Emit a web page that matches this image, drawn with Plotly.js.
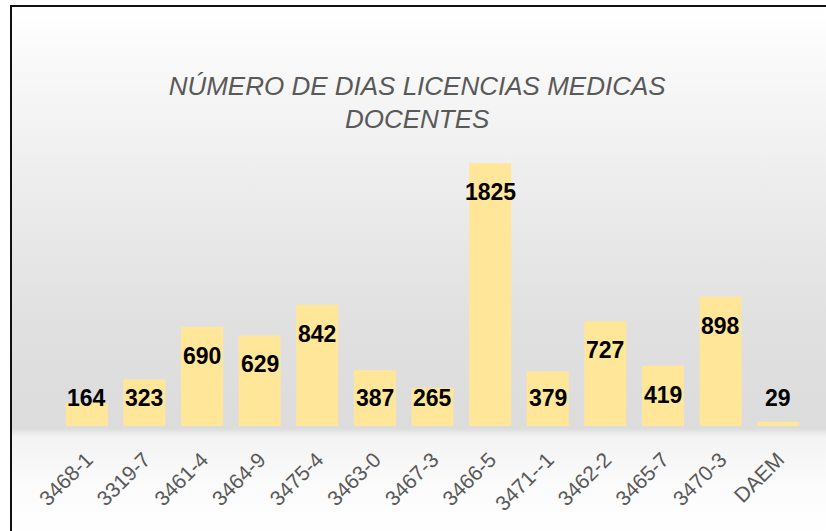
<!DOCTYPE html>
<html>
<head>
<meta charset="utf-8">
<script src="https://cdn.plot.ly/plotly-3.0.1.min.js"></script>
<style>
  html, body { margin: 0; padding: 0; width: 826px; height: 531px; overflow: hidden; background: #ffffff; }
  #bg {
    position: absolute; left: 10px; top: 5px; width: 820px; height: 530px;
    border-left: 2.5px solid #111; border-top: 2.5px solid #111;
    background: linear-gradient(to bottom, #ffffff 0%, #f7f7f7 14%, #ececec 35%, #e0e0e0 60%, #dcdcdc 79.5%, #f3f3f3 81%, #fbfbfb 90%, #ffffff 100%);
  }
  #chart { position: absolute; left: 0; top: 0; width: 826px; height: 531px; }
</style>
</head>
<body>
<div id="bg"></div>
<div id="chart"></div>
<script>
const categories = ["3468-1", "3319-7", "3461-4", "3464-9", "3475-4", "3463-0", "3467-3", "3466-5", "3471--1", "3462-2", "3465-7", "3470-3", "DAEM"];
const values = [164, 323, 690, 629, 842, 387, 265, 1825, 379, 727, 419, 898, 29];
const chartTitle = "NÚMERO DE DIAS LICENCIAS MEDICAS<br>DOCENTES";

const labelFloor = 396; // labels of short bars stay at a minimum height (like Excel)

const trace = {
  type: "bar",
  x: categories,
  y: values,
  marker: { color: "#FFE699", line: { width: 0 } },
  hoverinfo: "x+y"
};

const annotations = categories.map((c, i) => ({
  x: c,
  y: Math.max(values[i], labelFloor),
  xref: "x", yref: "y",
  text: String(values[i]),
  showarrow: false,
  yanchor: "middle",
  yshift: -29,
  font: { family: "Liberation Sans, Arial, sans-serif", size: 23, color: "#000000", weight: "bold" }
}));

const layout = {
  width: 826, height: 531,
  paper_bgcolor: "rgba(0,0,0,0)",
  plot_bgcolor: "rgba(0,0,0,0)",
  margin: { l: 58, r: 19, t: 138, b: 105 },
  bargap: 0.27,
  showlegend: false,
  title: {
    text: chartTitle,
    x: 0.505, xanchor: "center",
    y: 0.822, yanchor: "top", yref: "container",
    font: { family: "Liberation Sans, Arial, sans-serif", size: 26, color: "#595959", style: "italic" }
  },
  xaxis: {
    type: "category",
    tickangle: -45,
    tickfont: { family: "Liberation Sans, Arial, sans-serif", size: 21, color: "#595959" },
    showline: false, showgrid: false, zeroline: false,
    ticks: "outside", ticklen: 12, tickcolor: "rgba(0,0,0,0)"
  },
  yaxis: {
    range: [0, 2000],
    visible: false, showgrid: false, zeroline: false
  },
  annotations: annotations
};

Plotly.newPlot("chart", [trace], layout, { displayModeBar: false, staticPlot: true });
</script>
</body>
</html>
